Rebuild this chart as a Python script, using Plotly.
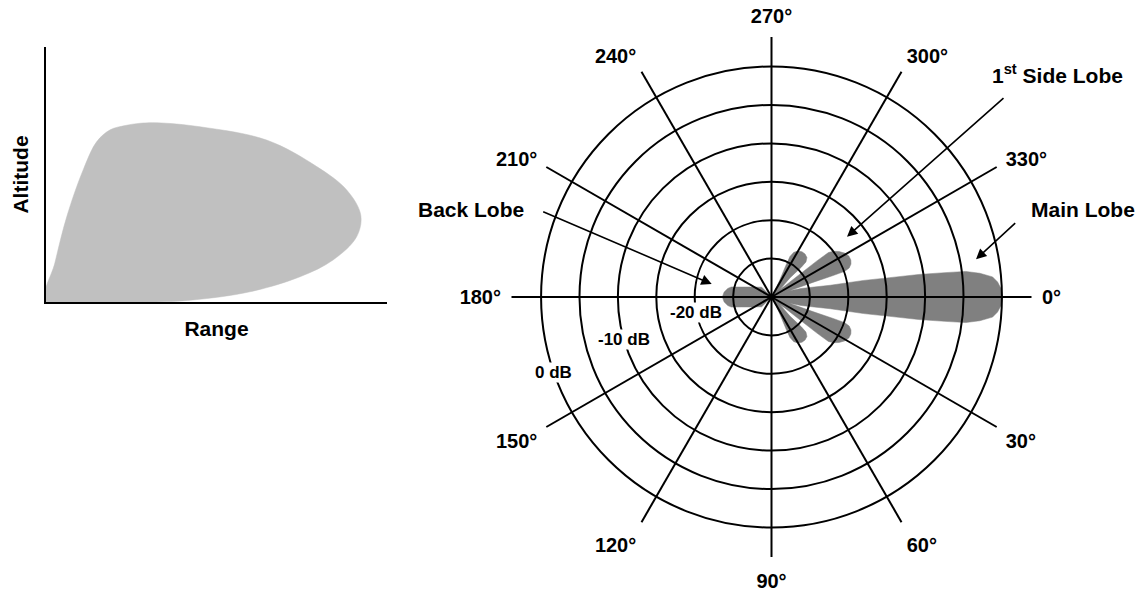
import plotly.graph_objects as go
import math

W, H = 1139, 592

# ---------------- data ----------------
# Left panel: radar coverage envelope (arbitrary range / altitude units, 0-100)
cov_range = [0, 2.6, 6.1, 10.9, 14.9, 18.8, 23.2, 27.6, 32.5, 45.2, 64.7, 79.4,
             88.2, 92.3, 91.1, 84.2, 74.5, 59.8, 43.1, 30.5, 0]
cov_alt = [0, 15.3, 33.5, 51.8, 62.9, 67.5, 69.2, 70.1, 70.3, 68.7, 63.5, 53.1,
           43.9, 34.1, 25.6, 16.5, 9.9, 4.0, 0.8, 0, 0]
x_title = "Range"
y_title = "Altitude"

# Right panel: antenna pattern, one half (offset from boresight in degrees, gain in dB),
# the pattern is symmetric about the 0° axis
pat_offset = [0, 2.1, 3.8, 5.2, 6.5, 7.5, 8.0, 8.7, 9.3, 10.2, 11.3, 13.2, 16.0, 19.0,
              19.5, 19.4, 19.2, 19.3, 20.5, 22.5, 25.0, 28.0, 31.0, 34.0, 36.5, 38.0,
              38.5, 38.8, 39.5,
              42.0, 46.0, 45.0, 45.5, 48.0, 52.0, 56.0, 60.0, 63.5, 65.5, 65.5, 64.0, 62.0,
              70.0, 130.0,
              135.0, 153.4, 161.6, 166.0, 168.9, 174.0, 180.0]
pat_db = [0.1, -0.1, -0.5, -1.1, -2.7, -4.5, -7.2, -10.6, -14.4, -17.8, -22.2, -24.3, -26.0, -27.5,
          -28.2, -24.1, -21.5, -19.9, -19.2, -18.8, -18.6, -18.6, -18.9, -19.4, -20.0, -20.6,
          -22.5, -25.0, -27.7,
          -28.5, -26.5, -24.5, -23.6, -23.1, -22.9, -22.9, -23.1, -23.5, -24.2, -25.5, -27.5, -28.8,
          -30.0, -30.0,
          -28.2, -27.1, -25.9, -24.6, -24.2, -23.8, -23.6]

angle_ticks = [0, 30, 60, 90, 120, 150, 180, 210, 240, 270, 300, 330]
angle_labels = ["0°", "30°", "60°", "90°", "120°", "150°", "180°", "210°",
                "240°", "270°", "300°", "330°"]
ring_db = [-25, -20, -15, -10, -5, 0]
ring_label_db = [-20, -10, 0]
ring_label_text = ["-20 dB", "-10 dB", "0 dB"]
ring_label_theta = [168, 164, 161]

lobe_names = ["Back Lobe", "1<sup>st</sup> Side Lobe", "Main Lobe"]

# ---------------- layout geometry ----------------
FONT = "Liberation Sans, Arial, sans-serif"
RMIN, RMAX = -30.0, 3.85
CX, CY, RPX = 771.5, 297.0, 260.0           # polar centre / outer radius in pixels
PX_PER_DB = RPX / (RMAX - RMIN)

pol_dom = dict(x=[(CX - RPX) / W, (CX + RPX) / W],
               y=[(H - CY - RPX) / H, (H - CY + RPX) / H])


def polar_px(theta_deg, db):
    r = (db - RMIN) * PX_PER_DB
    t = math.radians(theta_deg)
    return CX + r * math.cos(t), CY + r * math.sin(t)   # clockwise, y down


def paper(px, py):
    return px / W, 1 - py / H


# full closed pattern (lower half then mirrored upper half)
theta_full = pat_offset + [360 - a for a in reversed(pat_offset)]
r_full = pat_db + list(reversed(pat_db))

fig = go.Figure()

# left panel coverage
fig.add_trace(go.Scatter(x=cov_range, y=cov_alt, mode="lines", fill="toself",
                         fillcolor="#C0C0C0", line=dict(color="#C0C0C0", width=0.5,
                                                        shape="spline", smoothing=1.0),
                         hoverinfo="skip", xaxis="x", yaxis="y"))

# antenna pattern (bottom polar)
fig.add_trace(go.Scatterpolar(r=r_full, theta=theta_full, mode="lines", fill="toself",
                              fillcolor="#808080", line=dict(color="#808080", width=0.5),
                              hoverinfo="skip", subplot="polar"))
# grid polar on top
fig.add_trace(go.Scatterpolar(r=[RMIN], theta=[0], mode="markers",
                              marker=dict(size=1, opacity=0), hoverinfo="skip",
                              subplot="polar2"))

axis_common = dict(showline=True, linewidth=2, linecolor="black", showgrid=False,
                   zeroline=False, showticklabels=False, ticks="", range=[0, 100],
                   fixedrange=True)

tfont = dict(family=FONT, size=21, color="black", weight="bold")

fig.update_layout(
    width=W, height=H, margin=dict(l=0, r=0, t=0, b=0),
    paper_bgcolor="white", plot_bgcolor="white", showlegend=False,
    xaxis=dict(domain=[46 / W, 387 / W], title=dict(text=x_title, font=tfont, standoff=18),
               **axis_common),
    yaxis=dict(domain=[(H - 302) / H, (H - 47) / H], title=dict(text=y_title, font=tfont, standoff=10),
               **axis_common),
    polar=dict(domain=pol_dom, bgcolor="white", hole=0,
               angularaxis=dict(direction="clockwise", rotation=0, showgrid=False,
                                showticklabels=False, showline=False, ticks=""),
               radialaxis=dict(range=[RMIN, RMAX], showgrid=False, showticklabels=False,
                               showline=False, ticks="")),
    polar2=dict(domain=pol_dom, bgcolor="rgba(0,0,0,0)", hole=0,
                angularaxis=dict(direction="clockwise", rotation=0, tickmode="array",
                                 tickvals=angle_ticks, ticktext=angle_labels,
                                 showgrid=True, gridcolor="black", gridwidth=2,
                                 showline=False, ticks="outside", ticklen=6,
                                 tickcolor="rgba(0,0,0,0)",
                                 tickfont=dict(family=FONT, size=20, color="black", weight="bold")),
                radialaxis=dict(range=[RMIN, RMAX], tickmode="array", tickvals=ring_db,
                                showgrid=True, gridcolor="black", gridwidth=2,
                                showticklabels=False, showline=False, ticks="")),
)

ann = []
# ring labels (white background cuts the circle)
for db, txt, th in zip(ring_label_db, ring_label_text, ring_label_theta):
    px, py = polar_px(th, db)
    x, y = paper(px, py)
    ann.append(dict(x=x, y=y, xref="paper", yref="paper", text=txt, showarrow=False,
                    xanchor="center", yanchor="middle", bgcolor="white", borderpad=0,
                    font=dict(family=FONT, size=17, color="black", weight="bold")))

# lobe labels and arrows
label_pos = [(471, 209), (1057, 74), (1083, 209)]
arrow_tail = [(541.7, 211.0), (1005.0, 96.7), (1016.7, 221.7)]
arrow_head = [(711.7, 284.0), (847.0, 236.7), (976.0, 259.3)]
for name, lp, tl, hd in zip(lobe_names, label_pos, arrow_tail, arrow_head):
    x, y = paper(*lp)
    ann.append(dict(x=x, y=y, xref="paper", yref="paper", text=name, showarrow=False,
                    xanchor="center", yanchor="middle",
                    font=dict(family=FONT, size=21, color="black", weight="bold")))
    hx, hy = paper(*hd)
    ann.append(dict(x=hx, y=hy, xref="paper", yref="paper", text="", showarrow=True,
                    ax=tl[0] - hd[0], ay=tl[1] - hd[1], axref="pixel", ayref="pixel",
                    arrowhead=2, arrowsize=1.3, arrowwidth=1.6, arrowcolor="black",
                    standoff=0, startstandoff=0))

fig.update_layout(annotations=ann)

fig.write_html("out.html", config={"displayModeBar": False},
               post_script="document.body.style.margin='0px';document.body.style.overflow='hidden';")
